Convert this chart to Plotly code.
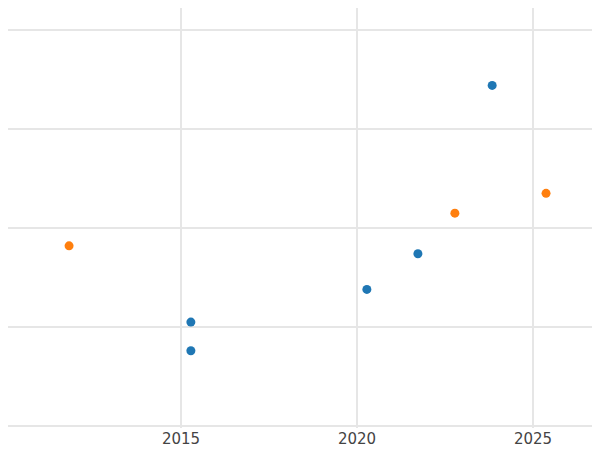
import plotly.graph_objects as go

blue_x = [2015.28, 2015.28, 2020.28, 2021.73, 2023.84]
blue_y = [1.05, 0.76, 1.38, 1.74, 3.44]
orange_x = [2011.82, 2022.78, 2025.37]
orange_y = [1.82, 2.15, 2.35]

fig = go.Figure()
fig.add_trace(go.Scatter(x=blue_x, y=blue_y, mode="markers",
                         marker=dict(color="#1f77b4", size=9)))
fig.add_trace(go.Scatter(x=orange_x, y=orange_y, mode="markers",
                         marker=dict(color="#ff7f0e", size=9)))
fig.update_layout(
    width=600, height=450, showlegend=False,
    plot_bgcolor="white", paper_bgcolor="white",
    margin=dict(l=0, r=0, t=0, b=30, autoexpand=False),
    font=dict(family="DejaVu Sans", size=15, color="#444"),
    xaxis=dict(range=[2010.085, 2027.13], tickvals=[2010, 2015, 2020, 2025],
               ticktext=["", "2015", "2020", "2025"],
               showgrid=True, gridcolor="#e6e6e6", gridwidth=1.5, zeroline=False,
               showline=False, ticks=""),
    yaxis=dict(range=[-0.02, 4.222], tickvals=[0, 1, 2, 3, 4], showticklabels=False,
               showgrid=True, gridcolor="#e6e6e6", gridwidth=1.5, zeroline=False,
               showline=False, ticks=""),
)
fig.write_html("out.html")
